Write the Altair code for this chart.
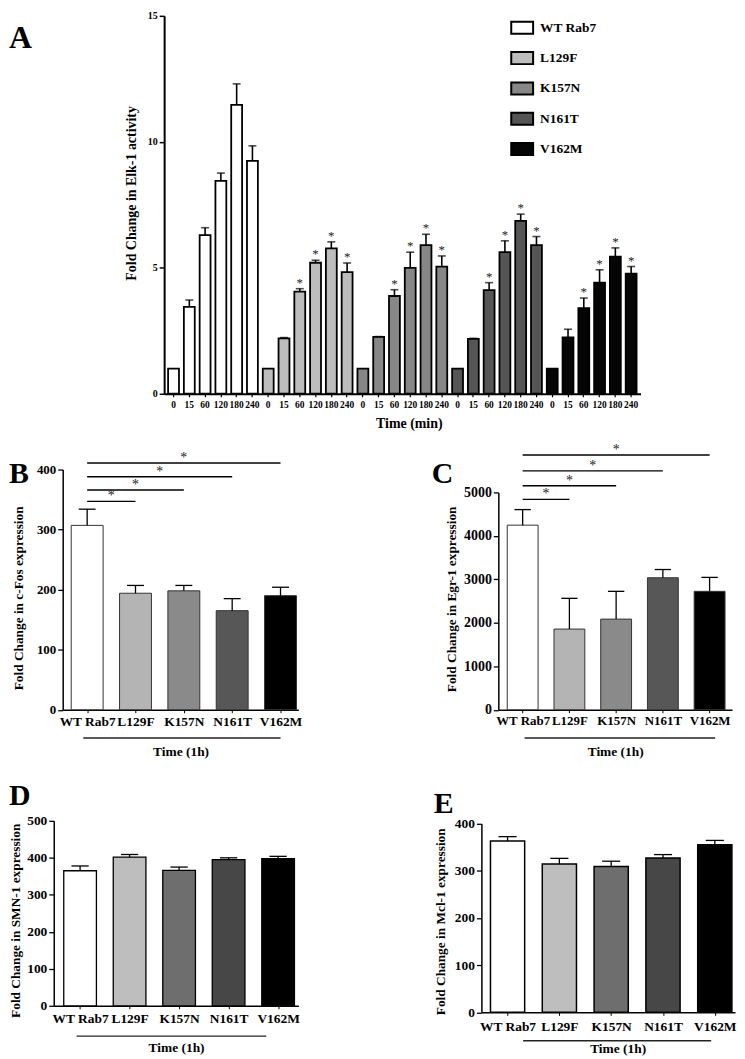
import json
import altair as alt
import pandas as pd

FONT = "Liberation Serif"

# ---------------- data ----------------
groups = ["WT Rab7", "L129F", "K157N", "N161T", "V162M"]
times = ["0", "15", "60", "120", "180", "240"]

# Panel A: Elk-1 activity (fold change), mean and SEM per time point
elk_mean = {
    "WT Rab7": [1.0, 3.45, 6.30, 8.45, 11.47, 9.24],
    "L129F":   [1.0, 2.20, 4.05, 5.20, 5.77, 4.83],
    "K157N":   [1.0, 2.26, 3.88, 5.00, 5.90, 5.05],
    "N161T":   [1.0, 2.18, 4.11, 5.62, 6.86, 5.90],
    "V162M":   [1.0, 2.24, 3.40, 4.41, 5.44, 4.77],
}
elk_sem = {
    "WT Rab7": [0.0, 0.27, 0.29, 0.31, 0.83, 0.60],
    "L129F":   [0.0, 0.03, 0.12, 0.10, 0.26, 0.36],
    "K157N":   [0.0, 0.01, 0.25, 0.62, 0.43, 0.42],
    "N161T":   [0.0, 0.02, 0.30, 0.45, 0.27, 0.34],
    "V162M":   [0.0, 0.32, 0.40, 0.51, 0.35, 0.28],
}
elk_sig = {
    "WT Rab7": [False, False, False, False, False, False],
    "L129F":   [False, False, True, True, True, True],
    "K157N":   [False, False, True, True, True, True],
    "N161T":   [False, False, True, True, True, True],
    "V162M":   [False, False, True, True, True, True],
}

# Panels B-E (1 h)
fos_mean = [307, 194, 198, 165, 190]
fos_sem = [27, 13, 9, 20, 14]
fos_sig_y = [347, 366, 388, 411]

egr_mean = [4247, 1856, 2085, 3037, 2724]
egr_sem = [358, 707, 639, 189, 321]
egr_sig_y = [4840, 5153, 5495, 5861]

smn_mean = [365, 402, 366, 395, 398]
smn_sem = [13, 7, 9, 5, 6]

mcl_mean = [363, 314, 309, 327, 355]
mcl_sem = [9, 12, 11, 7, 9]

# ---------------- styles ----------------
fills_a = ["#ffffff", "#bdbdbd", "#878787", "#555555", "#050505"]
fills_bc = ["#ffffff", "#b4b4b4", "#8a8a8a", "#575757", "#000000"]
fills_de = ["#ffffff", "#bebebe", "#6e6e6e", "#474747", "#000000"]

BOLD = dict(font=FONT, fontWeight="bold", color="black")

# ---------------- panel A ----------------
rows = []
for g in groups:
    for t, m, s, sg in zip(times, elk_mean[g], elk_sem[g], elk_sig[g]):
        rows.append({"key": f"{g}|{t}", "group": g, "mean": m, "sem": s, "sig": sg})
df_a = pd.DataFrame(rows)
keys = df_a["key"].tolist()

XA_TITLE = "Time (min)"
YA_TITLE = "Fold Change in Elk-1 activity"
xa_scale = alt.Scale(domain=keys, range=[111, 590], paddingInner=0.31, paddingOuter=0.25)
ya_scale = alt.Scale(domain=[0, 15], range=[380, 0], nice=False)


def xa(field="key:N"):
    return alt.X(field, scale=xa_scale, sort=keys, title=XA_TITLE)


def ya(field):
    return alt.Y(field, scale=ya_scale, title=YA_TITLE)


base_a = alt.Chart(df_a).transform_calculate(upper="datum.mean + datum.sem")

bars_a = base_a.mark_bar(stroke="black", strokeWidth=1.8).encode(
    x=alt.X("key:N", scale=xa_scale, sort=keys,
            axis=alt.Axis(title=XA_TITLE, labelExpr="split(datum.label, '|')[1]",
                          labelAngle=0, labelOverlap=False, labelFontSize=9.5,
                          tickSize=3, tickWidth=1.2, labelPadding=3, titleFontSize=14,
                          titlePadding=7, titleX=357, offset=35.2, domainWidth=2)),
    y=alt.Y("mean:Q", scale=ya_scale,
            axis=alt.Axis(values=[0, 5, 10, 15], tickCount=10, title=YA_TITLE,
                          labelOverlap=False, labelFlush=False,
                          labelFontSize=10, tickSize=5, tickWidth=1.5, labelPadding=2,
                          domainWidth=2, offset=-111, titleFontSize=14,
                          titleX=-33, titleY=178, titleBaseline="middle")),
    fill=alt.Fill("group:N", scale=alt.Scale(domain=groups, range=fills_a),
                  legend=alt.Legend(title=None, orient="none", legendX=459, legendY=0,
                                    symbolType="M-1,-0.55H1V0.55H-1Z", symbolSize=484,
                                    symbolStrokeColor="black", symbolStrokeWidth=2,
                                    labelFont=FONT, labelFontSize=13.5, labelFontWeight="bold",
                                    labelColor="black", labelOffset=6, rowPadding=7.5,
                                    padding=0)),
)
err_a = base_a.transform_filter("datum.sem > 0").mark_rule(color="black", strokeWidth=1.6).encode(
    x=xa(), y=ya("mean:Q"), y2="upper:Q",
)
cap_a = base_a.transform_filter("datum.sem > 0").mark_tick(color="black", size=8, thickness=1.6).encode(
    x=xa(), y=ya("upper:Q"),
)
star_a = base_a.transform_filter("datum.sig").mark_text(
    text="*", font=FONT, fontSize=13, baseline="alphabetic", dy=-2, color="#222222").encode(
    x=xa(), y=ya("upper:Q"),
)
one = pd.DataFrame({"v": [0]})
letter_a = alt.Chart(one).mark_text(text="A", align="left", baseline="alphabetic",
                                    fontSize=32, **BOLD).encode(
    x=alt.value(-45), y=alt.value(32))
anchor = alt.Chart(one).mark_rule(opacity=0, strokeWidth=0.1).encode(
    x=alt.value(-45), x2=alt.value(-44), y=alt.value(-4))

panel_a = alt.layer(bars_a, err_a, cap_a, star_a, letter_a, anchor).properties(
    width=246, height=344.8)

blank = alt.Chart(one).mark_point(opacity=0).encode(
    x=alt.value(0), y=alt.value(0)).properties(width=1, height=1)

# ---------------- panels B-E ----------------
label_expr = json.dumps(groups) + "[datum.value]"
X_TITLE = "Time (1h)"


def small_panel(letter, ytitle, means, sems, fills, *, width, height, x_range, x_domain,
                y_domain, y_range, y_ticks, y_offset, title_x, title_y, letter_x, letter_y,
                underline, bar_stroke, bar_sw, label_pad, title_pad, tick_label_size=13.5,
                x_label_size=13.5, ytitle_size=13.4, sig_y=None, xtitle_x=None):
    df = pd.DataFrame({"group": groups, "idx": list(range(len(groups))),
                       "mean": means, "sem": sems})
    base = alt.Chart(df).transform_calculate(
        lo="datum.idx - 0.33", hi="datum.idx + 0.33",
        cl="datum.idx - 0.175", cr="datum.idx + 0.175",
        upper="datum.mean + datum.sem")
    xs = alt.Scale(domain=x_domain, range=x_range, nice=False, zero=False)
    ys = alt.Scale(domain=y_domain, range=y_range, nice=False)

    def xq(field):
        return alt.X(field, scale=xs, title=X_TITLE)

    def yq(field):
        return alt.Y(field, scale=ys, title=ytitle)

    xaxis = dict(values=list(range(len(groups))), tickCount=10, labelExpr=label_expr,
                 title=X_TITLE, labelAngle=0, labelOverlap=False, labelFlush=False,
                 labelFontSize=x_label_size, tickSize=3, labelPadding=label_pad,
                 titleFontSize=13.5, titlePadding=title_pad, domainWidth=1.5)
    if xtitle_x is not None:
        xaxis["titleX"] = xtitle_x
    bars = base.mark_bar(stroke=bar_stroke, strokeWidth=bar_sw).encode(
        x=alt.X("lo:Q", scale=xs, axis=alt.Axis(**xaxis)),
        x2="hi:Q",
        y=alt.Y("mean:Q", scale=ys,
                axis=alt.Axis(values=y_ticks, tickCount=20, format="d", title=ytitle,
                              labelOverlap=False, labelFlush=False,
                              labelFontSize=tick_label_size,
                              tickSize=5, tickWidth=1.3, labelPadding=2, domainWidth=1.5,
                              offset=y_offset, titleFontSize=ytitle_size, titleX=title_x,
                              titleY=title_y, titleBaseline="middle")),
        y2=alt.datum(0),
        fill=alt.Fill("group:N", scale=alt.Scale(domain=groups, range=fills), legend=None),
    )
    err = base.mark_rule(color="black", strokeWidth=1.3).encode(
        x=xq("idx:Q"), y=yq("mean:Q"), y2="upper:Q")
    cap = base.mark_rule(color="black", strokeWidth=1.3).encode(
        x=xq("cl:Q"), x2="cr:Q", y=yq("upper:Q"))
    layers = [bars, err, cap]
    if sig_y is not None:
        sdf = pd.DataFrame({"s0": [0] * len(sig_y), "s1": list(range(1, len(sig_y) + 1)),
                            "sy": sig_y})
        sbase = alt.Chart(sdf).transform_calculate(smid="(datum.s0 + datum.s1) / 2")
        layers.append(sbase.mark_rule(color="black", strokeWidth=1.4).encode(
            x=xq("s0:Q"), x2="s1:Q", y=yq("sy:Q")))
        layers.append(sbase.mark_text(text="*", font=FONT, fontSize=14, baseline="alphabetic",
                                      dy=-1, color="#222222").encode(
            x=xq("smid:Q"), y=yq("sy:Q")))
    udf = pd.DataFrame({"u0": [underline[0]], "u1": [underline[1]], "uy": [underline[2]]})
    layers.append(alt.Chart(udf).mark_rule(color="#222222", strokeWidth=1.4).encode(
        x=xq("u0:Q"), x2="u1:Q", y=yq("uy:Q")))
    layers.append(alt.Chart(one).mark_text(text=letter, align="left", baseline="alphabetic",
                                           fontSize=30, **BOLD).encode(
        x=alt.value(letter_x), y=alt.value(letter_y)))
    return alt.layer(*layers).properties(width=width, height=height)


panel_b = small_panel(
    "B", "Fold Change in c-Fos expression", fos_mean, fos_sem, fills_bc,
    width=246, height=241.5, x_range=[9, 246], x_domain=[-0.506, 4.37],
    y_domain=[0, 400], y_range=[241.5, 0], y_ticks=[0, 100, 200, 300, 400], y_offset=-9,
    title_x=-44, title_y=129, letter_x=-45, letter_y=14, underline=[-0.08, 4.0, -47],
    bar_stroke="#333333", bar_sw=1, label_pad=2, title_pad=17, tick_label_size=13,
    sig_y=fos_sig_y)

panel_c = small_panel(
    "C", "Fold Change in Egr-1 expression", egr_mean, egr_sem, fills_bc,
    width=252, height=241.5, x_range=[17, 252], x_domain=[-0.521, 4.48],
    y_domain=[0, 5000], y_range=[241.5, 23], y_ticks=[0, 1000, 2000, 3000, 4000, 5000],
    y_offset=-17, title_x=-47, title_y=130, letter_x=-50, letter_y=14,
    underline=[0.04, 4.12, -650], bar_stroke="#333333", bar_sw=1, label_pad=2, title_pad=17,
    tick_label_size=14, x_label_size=13, sig_y=egr_sig_y)

panel_d = small_panel(
    "D", "Fold Change in SMN-1 expression", smn_mean, smn_sem, fills_de,
    width=246, height=186, x_range=[0, 246], x_domain=[-0.532, 4.41],
    y_domain=[0, 500], y_range=[186, 0], y_ticks=[0, 100, 200, 300, 400, 500], y_offset=0,
    title_x=-38, title_y=100, letter_x=-45, letter_y=-15.7, underline=[-0.07, 3.76, -82],
    bar_stroke="black", bar_sw=1.3, label_pad=3, title_pad=15)

panel_e = small_panel(
    "E", "Fold Change in Mcl-1 expression", mcl_mean, mcl_sem, fills_de,
    width=255, height=192.6, x_range=[0, 255], x_domain=[-0.505, 4.39],
    y_domain=[0, 400], y_range=[192.6, 2.6], y_ticks=[0, 100, 200, 300, 400], y_offset=0,
    title_x=-41, title_y=101, letter_x=-48, letter_y=-7.7, underline=[0.3, 3.93, -60],
    bar_stroke="black", bar_sw=1.5, label_pad=4, title_pad=9, xtitle_x=137)

chart = alt.concat(
    panel_a, blank, panel_b, panel_c, panel_d, panel_e,
    columns=2, spacing={"row": 111.2, "column": 184}, bounds="flush", align="each",
    padding=0, background="white",
).resolve_scale(fill="independent").configure_view(strokeWidth=0).configure_axis(
    grid=False, labelFont=FONT, titleFont=FONT, labelFontWeight="bold",
    titleFontWeight="bold", labelColor="black", titleColor="black",
    domainColor="black", tickColor="black",
)

chart.save("out.html", embed_options={"renderer": "svg", "actions": False})
